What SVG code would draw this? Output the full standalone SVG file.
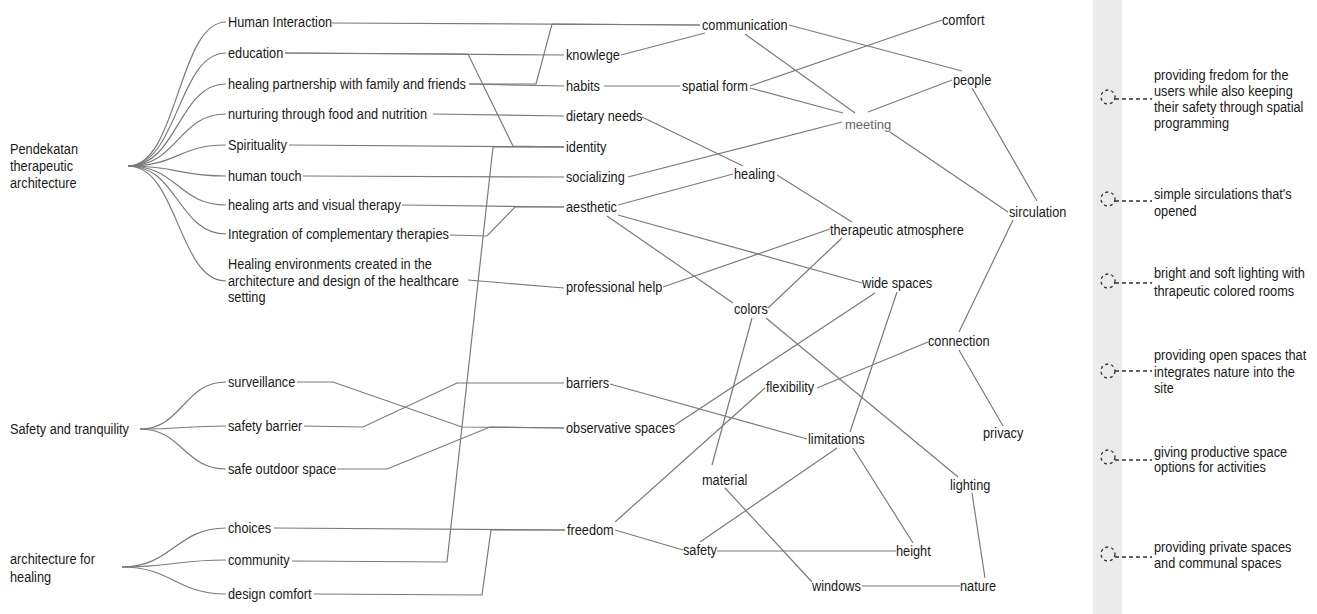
<svg xmlns="http://www.w3.org/2000/svg" width="1317" height="614" viewBox="0 0 1317 614">
<style>
.t{font-family:'Liberation Sans Narrow','Liberation Sans',Arial,sans-serif;font-size:15px;fill:#1a1a1a}
.m{font-family:'Liberation Sans',Arial,sans-serif;font-size:13px;fill:#666}
.c path{fill:none;stroke:#7a7a7a;stroke-width:1.2}
.d circle{fill:none;stroke:#333;stroke-width:1.3;stroke-dasharray:3 3}
.d path{fill:none;stroke:#333;stroke-width:1.4;stroke-dasharray:4 3}
</style>
<rect width="1317" height="614" fill="#ffffff"/>
<rect x="1093" y="0" width="29" height="614" fill="#ebebeb"/>
<g class="c" id="connectors">
<path d="M128,166 C178,166 178,22 226,22"/>
<path d="M128,166 C178,166 178,53 226,53"/>
<path d="M128,166 C178,166 178,84 226,84"/>
<path d="M128,166 C178,166 178,114 226,114"/>
<path d="M128,166 C178,166 178,145 226,145"/>
<path d="M128,166 C178,166 178,176 226,176"/>
<path d="M128,166 C178,166 178,205 226,205"/>
<path d="M128,166 C178,166 178,234 226,234"/>
<path d="M128,166 C178,166 178,281 226,281"/>
<path d="M140,429 C182,429 184,382 226,382"/>
<path d="M140,429 C182,429 184,426 226,426"/>
<path d="M140,429 C182,429 184,469 226,469"/>
<path d="M122,567 C172,567 176,528 226,528"/>
<path d="M122,567 C172,567 176,560 226,560"/>
<path d="M122,567 C172,567 176,594 226,594"/>
<path d="M332,23 L700,25"/>
<path d="M469,84 L536,84 L552,24 L700,25"/>
<path d="M469,84 L564,86"/>
<path d="M285,53 L564,55"/>
<path d="M285,53 L468,54 L513,146 L564,147"/>
<path d="M433,114 L564,116"/>
<path d="M289,145 L564,147"/>
<path d="M292,561 L447,562 L493,147 L564,147"/>
<path d="M303,176 L564,177"/>
<path d="M402,205 L564,207"/>
<path d="M450,235 L487,236 L515,207 L564,207"/>
<path d="M468,280 L564,288"/>
<path d="M297,382 L333,382 L462,427 L564,428"/>
<path d="M304,426 L363,427 L457,383 L564,383"/>
<path d="M337,469 L387,469 L490,427 L564,428"/>
<path d="M274,528 L565,530"/>
<path d="M314,594 L482,595 L491,530 L565,530"/>
<path d="M621,55 L705,33"/>
<path d="M604,86 L680,86"/>
<path d="M745,34 L855,113"/>
<path d="M789,25 L962,71"/>
<path d="M750,86 L942,20"/>
<path d="M750,88 L843,113"/>
<path d="M642,117 L743,166"/>
<path d="M628,177 L842,122"/>
<path d="M868,112 L952,80"/>
<path d="M890,132 L1008,212"/>
<path d="M972,88 L1037,201"/>
<path d="M1013,220 L959,332"/>
<path d="M959,350 L1003,426"/>
<path d="M618,205 L733,174"/>
<path d="M607,216 L733,303"/>
<path d="M618,215 L862,283"/>
<path d="M777,175 L852,222"/>
<path d="M663,287 L830,229"/>
<path d="M768,308 L842,238"/>
<path d="M752,318 L712,465"/>
<path d="M766,318 L958,477"/>
<path d="M875,293 L675,425"/>
<path d="M897,292 L850,432"/>
<path d="M610,384 L807,439"/>
<path d="M817,388 L928,342"/>
<path d="M765,388 L615,522"/>
<path d="M837,448 L700,542"/>
<path d="M853,448 L913,543"/>
<path d="M615,530 L683,550"/>
<path d="M717,551 L896,551"/>
<path d="M725,488 L812,582"/>
<path d="M862,586 L960,586"/>
<path d="M972,493 L985,578"/>
</g>
<g id="n-pendekatan"><text class="t" transform="translate(10,154) scale(.85 1)"><tspan x="0" y="0">Pendekatan</tspan><tspan x="0" y="17">therapeutic</tspan><tspan x="0" y="34">architecture</tspan></text></g>
<g id="n-safety-tranq"><text class="t" transform="translate(10,434) scale(.85 1)">Safety and tranquility</text></g>
<g id="n-arch-healing"><text class="t" transform="translate(10,564) scale(.85 1)"><tspan x="0" y="0">architecture for</tspan><tspan x="0" y="18">healing</tspan></text></g>
<g id="n-human-interaction"><text class="t" transform="translate(228,27) scale(.85 1)">Human Interaction</text></g>
<g id="n-education"><text class="t" transform="translate(228,58) scale(.85 1)">education</text></g>
<g id="n-partnership"><text class="t" transform="translate(228,89) scale(.85 1)">healing partnership with family and friends</text></g>
<g id="n-nurturing"><text class="t" transform="translate(228,119) scale(.85 1)">nurturing through food and nutrition</text></g>
<g id="n-spirituality"><text class="t" transform="translate(228,150) scale(.85 1)">Spirituality</text></g>
<g id="n-human-touch"><text class="t" transform="translate(228,181) scale(.85 1)">human touch</text></g>
<g id="n-healing-arts"><text class="t" transform="translate(228,210) scale(.85 1)">healing arts and visual therapy</text></g>
<g id="n-integration"><text class="t" transform="translate(228,239) scale(.85 1)">Integration of complementary therapies</text></g>
<g id="n-healing-env"><text class="t" transform="translate(228,269) scale(.85 1)"><tspan x="0" y="0">Healing environments created in the</tspan><tspan x="0" y="17">architecture and design of the healthcare</tspan><tspan x="0" y="33">setting</tspan></text></g>
<g id="n-surveillance"><text class="t" transform="translate(228,387) scale(.85 1)">surveillance</text></g>
<g id="n-safety-barrier"><text class="t" transform="translate(228,431) scale(.85 1)">safety barrier</text></g>
<g id="n-safe-outdoor"><text class="t" transform="translate(228,474) scale(.85 1)">safe outdoor space</text></g>
<g id="n-choices"><text class="t" transform="translate(228,533) scale(.85 1)">choices</text></g>
<g id="n-community"><text class="t" transform="translate(228,565) scale(.85 1)">community</text></g>
<g id="n-design-comfort"><text class="t" transform="translate(228,599) scale(.85 1)">design comfort</text></g>
<g id="n-communication"><text class="t" transform="translate(702,30) scale(.85 1)">communication</text></g>
<g id="n-knowlege"><text class="t" transform="translate(566,60) scale(.85 1)">knowlege</text></g>
<g id="n-habits"><text class="t" transform="translate(566,91) scale(.85 1)">habits</text></g>
<g id="n-spatial-form"><text class="t" transform="translate(682,91) scale(.85 1)">spatial form</text></g>
<g id="n-dietary"><text class="t" transform="translate(566,121) scale(.85 1)">dietary needs</text></g>
<g id="n-identity"><text class="t" transform="translate(566,152) scale(.85 1)">identity</text></g>
<g id="n-socializing"><text class="t" transform="translate(566,182) scale(.85 1)">socializing</text></g>
<g id="n-healing"><text class="t" transform="translate(734,179) scale(.85 1)">healing</text></g>
<g id="n-aesthetic"><text class="t" transform="translate(566,212) scale(.85 1)">aesthetic</text></g>
<g id="n-professional"><text class="t" transform="translate(566,292) scale(.85 1)">professional help</text></g>
<g id="n-colors"><text class="t" transform="translate(734,314) scale(.85 1)">colors</text></g>
<g id="n-therapeutic"><text class="t" transform="translate(830,235) scale(.85 1)">therapeutic atmosphere</text></g>
<g id="n-wide"><text class="t" transform="translate(862,288) scale(.85 1)">wide spaces</text></g>
<g id="n-meeting"><text class="m" x="845" y="129">meeting</text></g>
<g id="n-comfort"><text class="t" transform="translate(942,25) scale(.85 1)">comfort</text></g>
<g id="n-people"><text class="t" transform="translate(953,85) scale(.85 1)">people</text></g>
<g id="n-sirculation"><text class="t" transform="translate(1009,217) scale(.85 1)">sirculation</text></g>
<g id="n-connection"><text class="t" transform="translate(928,346) scale(.85 1)">connection</text></g>
<g id="n-privacy"><text class="t" transform="translate(983,438) scale(.85 1)">privacy</text></g>
<g id="n-lighting"><text class="t" transform="translate(950,490) scale(.85 1)">lighting</text></g>
<g id="n-height"><text class="t" transform="translate(896,556) scale(.85 1)">height</text></g>
<g id="n-nature"><text class="t" transform="translate(960,591) scale(.85 1)">nature</text></g>
<g id="n-windows"><text class="t" transform="translate(812,591) scale(.85 1)">windows</text></g>
<g id="n-safety"><text class="t" transform="translate(683,555) scale(.85 1)">safety</text></g>
<g id="n-material"><text class="t" transform="translate(702,485) scale(.85 1)">material</text></g>
<g id="n-limitations"><text class="t" transform="translate(808,444) scale(.85 1)">limitations</text></g>
<g id="n-flexibility"><text class="t" transform="translate(766,392) scale(.85 1)">flexibility</text></g>
<g id="n-barriers"><text class="t" transform="translate(566,388) scale(.85 1)">barriers</text></g>
<g id="n-observative"><text class="t" transform="translate(566,433) scale(.85 1)">observative spaces</text></g>
<g id="n-freedom"><text class="t" transform="translate(567,535) scale(.85 1)">freedom</text></g>
<g id="legend-1" class="d"><circle cx="1108" cy="97" r="7"/><path d="M1115,99 L1152,99"/><text class="t" transform="translate(1154,80) scale(.85 1)"><tspan x="0" y="0">providing fredom for the</tspan><tspan x="0" y="16">users while also keeping</tspan><tspan x="0" y="32">their safety through spatial</tspan><tspan x="0" y="48">programming</tspan></text></g>
<g id="legend-2" class="d"><circle cx="1108" cy="199" r="7"/><path d="M1115,201 L1152,201"/><text class="t" transform="translate(1154,199) scale(.85 1)"><tspan x="0" y="0">simple sirculations that's</tspan><tspan x="0" y="17">opened</tspan></text></g>
<g id="legend-3" class="d"><circle cx="1108" cy="281" r="7"/><path d="M1115,283 L1152,283"/><text class="t" transform="translate(1154,278) scale(.85 1)"><tspan x="0" y="0">bright and soft lighting with</tspan><tspan x="0" y="18">thrapeutic colored rooms</tspan></text></g>
<g id="legend-4" class="d"><circle cx="1108" cy="371" r="7"/><path d="M1115,371 L1152,371"/><text class="t" transform="translate(1154,360) scale(.85 1)"><tspan x="0" y="0">providing open spaces that</tspan><tspan x="0" y="17">integrates nature into the</tspan><tspan x="0" y="33">site</tspan></text></g>
<g id="legend-5" class="d"><circle cx="1108" cy="457" r="7"/><path d="M1115,460 L1152,460"/><text class="t" transform="translate(1154,457) scale(.85 1)"><tspan x="0" y="0">giving productive space</tspan><tspan x="0" y="15">options for activities</tspan></text></g>
<g id="legend-6" class="d"><circle cx="1108" cy="554" r="7"/><path d="M1115,557 L1152,557"/><text class="t" transform="translate(1154,552) scale(.85 1)"><tspan x="0" y="0">providing private spaces</tspan><tspan x="0" y="16">and communal spaces</tspan></text></g>
</svg>
